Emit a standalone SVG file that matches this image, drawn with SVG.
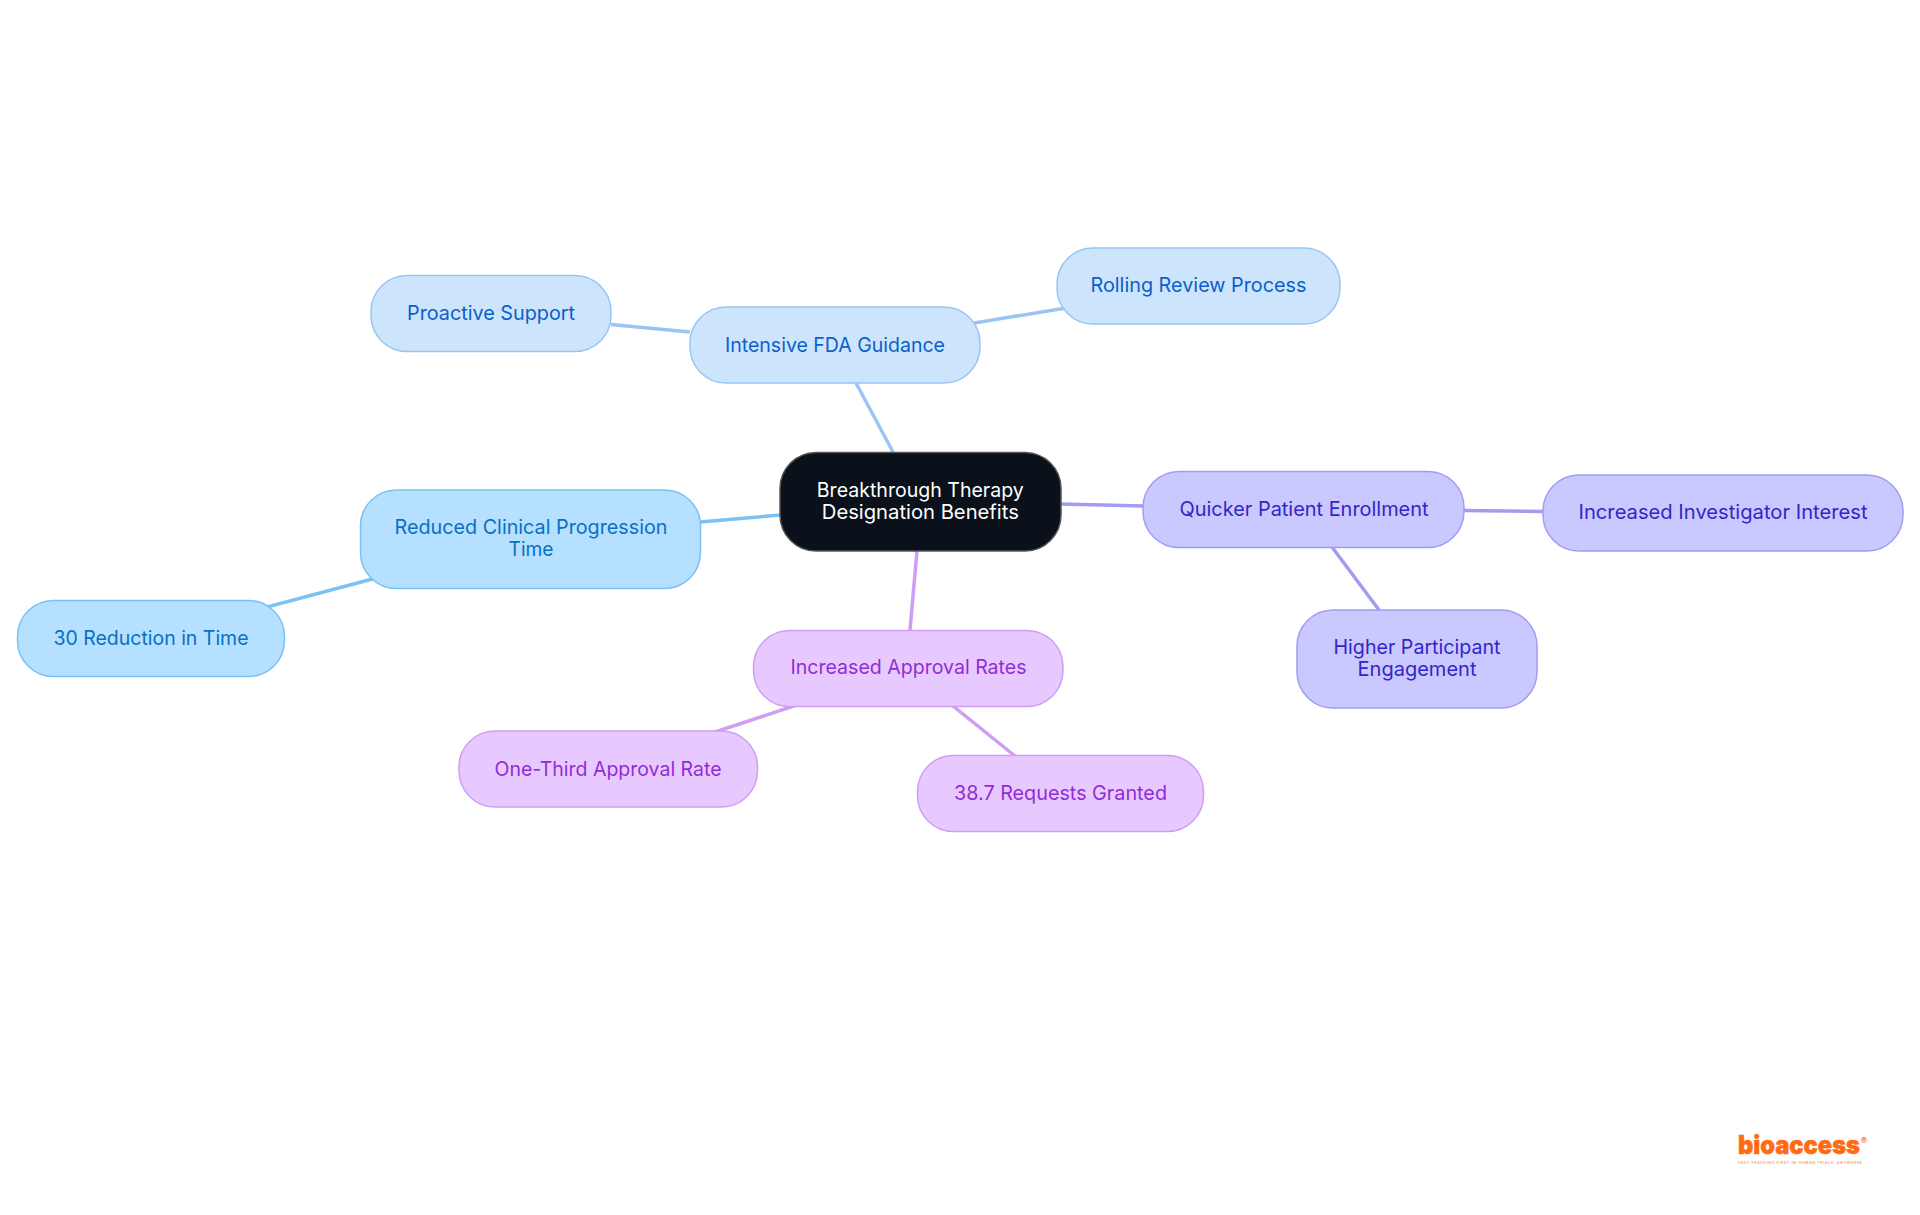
<svg xmlns="http://www.w3.org/2000/svg" width="1920" height="1215" viewBox="0 0 1920 1215">
<style>
text{font-family:"Inter","Liberation Sans",sans-serif;font-size:20px;font-weight:400;text-anchor:middle;dominant-baseline:central}
.c{fill:none;stroke-width:3.5px}
.n{stroke-width:1.5px}
.a{fill:#cde4fd;stroke:#98c5f3}.at{fill:#0c60c9}
.b{fill:#b5e0ff;stroke:#7bc1f1}.bt{fill:#0a70c2}
.q{fill:#c9c9ff;stroke:#a09cf2}.qt{fill:#3425c8}
.p{fill:#e8c9ff;stroke:#cf9df2}.pt{fill:#902dd8}
</style>
<rect width="1920" height="1215" fill="#fff"/>
<g id="connectors">
<path class="c" stroke="#98c5f3" d="M856 383L893 452"/>
<path class="c" stroke="#98c5f3" d="M611 324.500L690 332"/>
<path class="c" stroke="#98c5f3" d="M950 327L1087 304.500"/>
<path class="c" stroke="#7bc1f1" d="M700 522L780 515"/>
<path class="c" stroke="#7bc1f1" d="M250 611.500L395 573"/>
<path class="c" stroke="#a09cf2" d="M1061 504L1143 506"/>
<path class="c" stroke="#a09cf2" d="M1464 510.500L1543 511.500"/>
<path class="c" stroke="#a09cf2" d="M1332 547L1379 610"/>
<path class="c" stroke="#cf9df2" d="M917 551L910 630"/>
<path class="c" stroke="#cf9df2" d="M700 737L815 699"/>
<path class="c" stroke="#cf9df2" d="M953 706L1015 756"/>
</g>
<g id="node-center"><rect x="780" y="452.500" width="281" height="98.500" rx="36" fill="#0a111a" stroke="#555" stroke-width="1.500"/><text x="920.300" y="490" fill="#fff" textLength="207" lengthAdjust="spacingAndGlyphs">Breakthrough Therapy</text><text x="920.300" y="512" fill="#fff" textLength="197" lengthAdjust="spacingAndGlyphs">Designation Benefits</text></g>
<g id="node-fda"><rect class="n a" x="690" y="307" width="290" height="76" rx="36"/><text class="at" x="835" y="345" textLength="220" lengthAdjust="spacingAndGlyphs">Intensive FDA Guidance</text></g>
<g id="node-rolling"><rect class="n a" x="1057" y="248" width="283" height="76" rx="36"/><text class="at" x="1198.500" y="285" textLength="216" lengthAdjust="spacingAndGlyphs">Rolling Review Process</text></g>
<g id="node-proactive"><rect class="n a" x="371" y="275.500" width="240" height="76" rx="36"/><text class="at" x="491" y="313" textLength="168" lengthAdjust="spacingAndGlyphs">Proactive Support</text></g>
<g id="node-reduced"><rect class="n b" x="360.500" y="490" width="340" height="98.500" rx="36"/><text class="bt" x="531" y="527" textLength="273" lengthAdjust="spacingAndGlyphs">Reduced Clinical Progression</text><text class="bt" x="531" y="549" textLength="45" lengthAdjust="spacingAndGlyphs">Time</text></g>
<g id="node-30"><rect class="n b" x="17.500" y="600.500" width="267" height="76" rx="36"/><text class="bt" x="151" y="638" textLength="195" lengthAdjust="spacingAndGlyphs">30 Reduction in Time</text></g>
<g id="node-quicker"><rect class="n q" x="1143" y="471.500" width="321" height="76" rx="36"/><text class="qt" x="1304" y="509" textLength="249" lengthAdjust="spacingAndGlyphs">Quicker Patient Enrollment</text></g>
<g id="node-investigator"><rect class="n q" x="1543" y="475" width="360" height="76" rx="36"/><text class="qt" x="1723" y="512" textLength="289" lengthAdjust="spacingAndGlyphs">Increased Investigator Interest</text></g>
<g id="node-higher"><rect class="n q" x="1297" y="610" width="240" height="98" rx="36"/><text class="qt" x="1417" y="647" textLength="167" lengthAdjust="spacingAndGlyphs">Higher Participant</text><text class="qt" x="1417" y="669" textLength="119" lengthAdjust="spacingAndGlyphs">Engagement</text></g>
<g id="node-approval"><rect class="n p" x="753.500" y="630.500" width="309.500" height="76" rx="36"/><text class="pt" x="908.500" y="667" textLength="236" lengthAdjust="spacingAndGlyphs">Increased Approval Rates</text></g>
<g id="node-onethird"><rect class="n p" x="459" y="731" width="298.500" height="76" rx="36"/><text class="pt" x="608" y="769" textLength="227" lengthAdjust="spacingAndGlyphs">One-Third Approval Rate</text></g>
<g id="node-387"><rect class="n p" x="917.500" y="755.500" width="286" height="76" rx="36"/><text class="pt" x="1060.500" y="793" textLength="213" lengthAdjust="spacingAndGlyphs">38.7 Requests Granted</text></g>
<g id="logo"><text x="1738" y="1154" style="font-weight:900;font-size:26px;text-anchor:start;dominant-baseline:auto;stroke:#ff6a13;stroke-width:.5px" textLength="122" lengthAdjust="spacingAndGlyphs" fill="#ff6a13">bioaccess</text><text x="1864" y="1144" style="font-size:9px;font-weight:700;dominant-baseline:auto" fill="#ff6a13">®</text><text x="1738" y="1163.500" style="font-size:3.500px;font-weight:700;text-anchor:start;dominant-baseline:auto" textLength="124" fill="#fba873">FAST-TRACKING FIRST-IN-HUMAN TRIALS, ANYWHERE</text></g>
</svg>
